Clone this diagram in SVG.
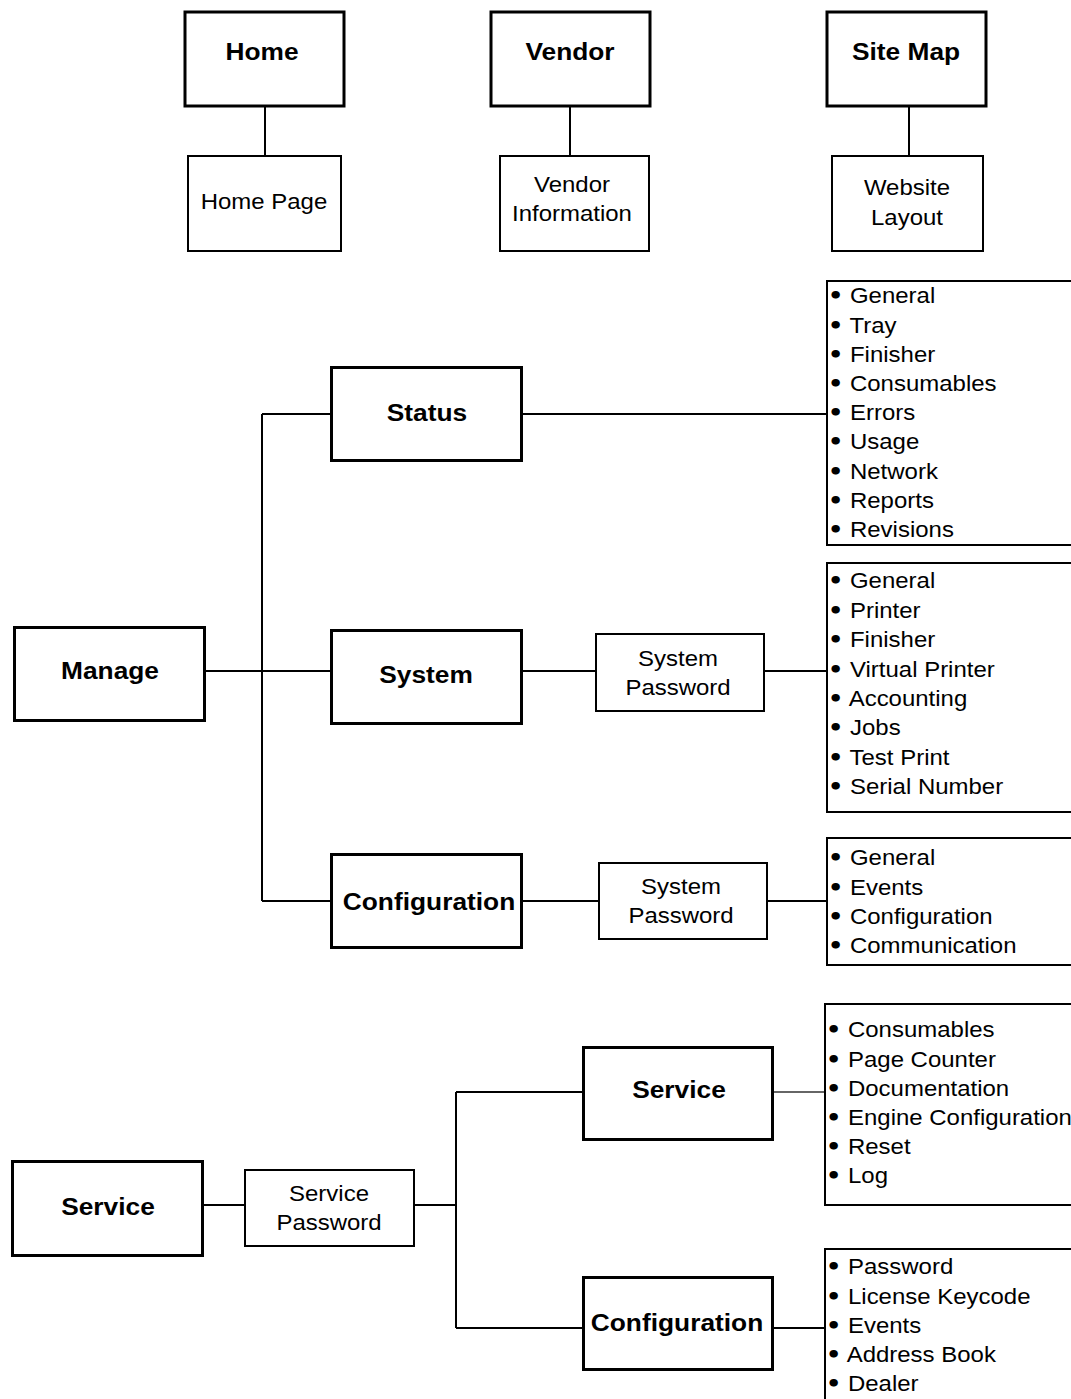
<svg xmlns="http://www.w3.org/2000/svg" width="1071" height="1399" viewBox="0 0 1071 1399">
<style>
.bb{fill:#fff;stroke:#000;stroke-width:3}
.tb{fill:#fff;stroke:#000;stroke-width:2}
.ln{fill:none;stroke:#000;stroke-width:2}
.thin{fill:none;stroke:#333;stroke-width:1.3}
.bt{font-family:"Liberation Sans",Arial,sans-serif;font-weight:bold;font-size:23.5px;text-anchor:middle;fill:#000}
.rt{font-family:"Liberation Sans",Arial,sans-serif;font-size:22px;text-anchor:middle;fill:#000}
.lt{font-family:"Liberation Sans",Arial,sans-serif;font-size:22px;fill:#000}
.bu{font-family:"DejaVu Sans",sans-serif;font-weight:bold}
</style>
<rect width="1071" height="1399" fill="#fff"/>
<g id="connectors">
<path class="ln" d="M265 107V155M570 107V155M909 107V155"/>
<path class="ln" d="M262 414V901M262 414H330M522 414H826M206 671H330M522 671H595M764 671H826M262 901H330M522 901H598M767 901H826"/>
<path class="ln" d="M204 1205H245M414 1205H456M456 1092V1328M456 1092H582M456 1328H582M774 1328H824"/>
<path class="thin" d="M774 1092H824"/>
</g>
<g id="home"><rect class="bb" x="185" y="12" width="159" height="94"/><text class="bt" transform="translate(262 60) scale(1.12 1)">Home</text></g>
<g id="vendor"><rect class="bb" x="491" y="12" width="159" height="94"/><text class="bt" transform="translate(570 60) scale(1.12 1)">Vendor</text></g>
<g id="sitemap"><rect class="bb" x="827" y="12" width="159" height="94"/><text class="bt" transform="translate(906 60) scale(1.12 1)">Site Map</text></g>
<g id="homepage"><rect class="tb" x="188" y="156" width="153" height="95"/><text class="rt" transform="translate(264 208.5) scale(1.09 1)">Home Page</text></g>
<g id="vendorinfo"><rect class="tb" x="500" y="156" width="149" height="95"/><text class="rt" transform="translate(572 0) scale(1.09 1)"><tspan x="0" y="192.5">Vendor</tspan><tspan x="0" y="221.5">Information</tspan></text></g>
<g id="websitelayout"><rect class="tb" x="832" y="156" width="151" height="95"/><text class="rt" transform="translate(907 0) scale(1.09 1)"><tspan x="0" y="195.5">Website</tspan><tspan x="0" y="225.5">Layout</tspan></text></g>
<g id="manage"><rect class="bb" x="14.5" y="627.5" width="190" height="93"/><text class="bt" transform="translate(110 679) scale(1.12 1)">Manage</text></g>
<g id="status"><rect class="bb" x="331.5" y="367.5" width="190" height="93"/><text class="bt" transform="translate(427 421) scale(1.12 1)">Status</text></g>
<g id="system"><rect class="bb" x="331.5" y="630.5" width="190" height="93"/><text class="bt" transform="translate(426 683) scale(1.12 1)">System</text></g>
<g id="configuration"><rect class="bb" x="331.5" y="854.5" width="190" height="93"/><text class="bt" transform="translate(429 910) scale(1.12 1)">Configuration</text></g>
<g id="syspw1"><rect class="tb" x="596" y="634" width="168" height="77"/><text class="rt" transform="translate(678 0) scale(1.09 1)"><tspan x="0" y="666.5">System</tspan><tspan x="0" y="695.5">Password</tspan></text></g>
<g id="syspw2"><rect class="tb" x="599" y="863" width="168" height="76"/><text class="rt" transform="translate(681 0) scale(1.09 1)"><tspan x="0" y="894.5">System</tspan><tspan x="0" y="923.5">Password</tspan></text></g>
<g id="statuslist"><rect class="tb" x="827" y="281" width="260" height="264"/><text class="lt" transform="translate(828 0) scale(1.09 1)"><tspan x="0" y="303.5"><tspan class="bu">•</tspan> General</tspan><tspan x="0" y="332.7"><tspan class="bu">•</tspan> Tray</tspan><tspan x="0" y="361.9"><tspan class="bu">•</tspan> Finisher</tspan><tspan x="0" y="391.1"><tspan class="bu">•</tspan> Consumables</tspan><tspan x="0" y="420.3"><tspan class="bu">•</tspan> Errors</tspan><tspan x="0" y="449.5"><tspan class="bu">•</tspan> Usage</tspan><tspan x="0" y="478.7"><tspan class="bu">•</tspan> Network</tspan><tspan x="0" y="507.9"><tspan class="bu">•</tspan> Reports</tspan><tspan x="0" y="537.1"><tspan class="bu">•</tspan> Revisions</tspan></text></g>
<g id="systemlist"><rect class="tb" x="827" y="563" width="260" height="249"/><text class="lt" transform="translate(828 0) scale(1.09 1)"><tspan x="0" y="588.5"><tspan class="bu">•</tspan> General</tspan><tspan x="0" y="617.9"><tspan class="bu">•</tspan> Printer</tspan><tspan x="0" y="647.3"><tspan class="bu">•</tspan> Finisher</tspan><tspan x="0" y="676.7"><tspan class="bu">•</tspan> Virtual Printer</tspan><tspan x="0" y="706.1"><tspan class="bu">•</tspan> Accounting</tspan><tspan x="0" y="735.5"><tspan class="bu">•</tspan> Jobs</tspan><tspan x="0" y="764.9"><tspan class="bu">•</tspan> Test Print</tspan><tspan x="0" y="794.3"><tspan class="bu">•</tspan> Serial Number</tspan></text></g>
<g id="configlist"><rect class="tb" x="827" y="838" width="260" height="127"/><text class="lt" transform="translate(828 0) scale(1.09 1)"><tspan x="0" y="865.5"><tspan class="bu">•</tspan> General</tspan><tspan x="0" y="894.8"><tspan class="bu">•</tspan> Events</tspan><tspan x="0" y="924.1"><tspan class="bu">•</tspan> Configuration</tspan><tspan x="0" y="953.4"><tspan class="bu">•</tspan> Communication</tspan></text></g>
<g id="service"><rect class="bb" x="12.5" y="1161.5" width="190" height="94"/><text class="bt" transform="translate(108 1215) scale(1.12 1)">Service</text></g>
<g id="servicepw"><rect class="tb" x="245" y="1170" width="169" height="76"/><text class="rt" transform="translate(329 0) scale(1.09 1)"><tspan x="0" y="1201.5">Service</tspan><tspan x="0" y="1230.5">Password</tspan></text></g>
<g id="service2"><rect class="bb" x="583.5" y="1047.5" width="189" height="92"/><text class="bt" transform="translate(679 1098) scale(1.12 1)">Service</text></g>
<g id="configuration2"><rect class="bb" x="583.5" y="1277.5" width="189" height="92"/><text class="bt" transform="translate(677 1331) scale(1.12 1)">Configuration</text></g>
<g id="servicelist"><rect class="tb" x="825" y="1004" width="260" height="201"/><text class="lt" transform="translate(826 0) scale(1.09 1)"><tspan x="0" y="1037.5"><tspan class="bu">•</tspan> Consumables</tspan><tspan x="0" y="1066.7"><tspan class="bu">•</tspan> Page Counter</tspan><tspan x="0" y="1095.9"><tspan class="bu">•</tspan> Documentation</tspan><tspan x="0" y="1125.1"><tspan class="bu">•</tspan> Engine Configuration</tspan><tspan x="0" y="1154.3"><tspan class="bu">•</tspan> Reset</tspan><tspan x="0" y="1183.5"><tspan class="bu">•</tspan> Log</tspan></text></g>
<g id="config2list"><rect class="tb" x="825" y="1249" width="260" height="170"/><text class="lt" transform="translate(826 0) scale(1.09 1)"><tspan x="0" y="1274.5"><tspan class="bu">•</tspan> Password</tspan><tspan x="0" y="1303.7"><tspan class="bu">•</tspan> License Keycode</tspan><tspan x="0" y="1333"><tspan class="bu">•</tspan> Events</tspan><tspan x="0" y="1362.2"><tspan class="bu">•</tspan> Address Book</tspan><tspan x="0" y="1391.4"><tspan class="bu">•</tspan> Dealer</tspan></text></g>
</svg>
